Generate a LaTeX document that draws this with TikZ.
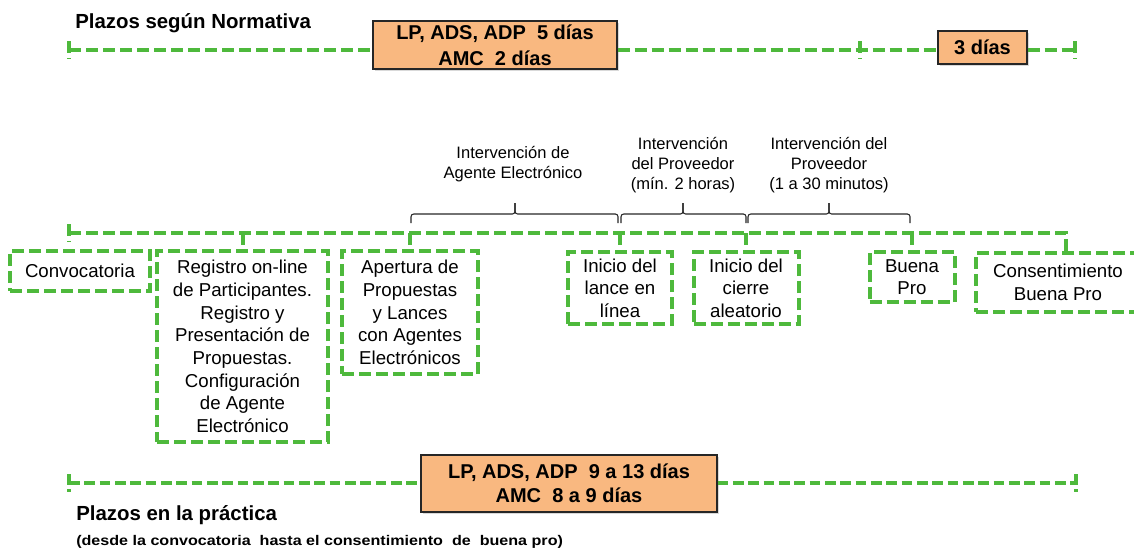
\documentclass[tikz,border=0pt]{standalone}
\usepackage{fontspec}
\usepackage{graphicx}
\setmainfont{Liberation Sans}
\usetikzlibrary{shadows}
\definecolor{dgreen}{RGB}{78,185,60}
\definecolor{ofill}{RGB}{249,184,128}
\newcommand\mybrace[3]{%
  \draw[brc] (#1,223) -- (#1,214) -- (#2,214) -- (#2,203);
  \draw[brc] (#3,223) -- (#3,214) -- (#2,214) -- (#2,203);}
\begin{document}
\begin{tikzpicture}[x=0.75pt,y=-0.75pt,
  gline/.style={draw=dgreen, line width=3pt, dash pattern=on 9pt off 3.75pt},
  tline/.style={draw=dgreen, line width=2.6pt, dash pattern=on 8pt off 3.5pt},
  gbox/.style={gline, fill=white, align=center, inner sep=0pt,
    font=\fontsize{14pt}{17pt}\selectfont},
  obox/.style={draw=black!85, line width=0.9pt, fill=ofill, align=center, inner sep=0pt,
    drop shadow={opacity=0.3, shadow xshift=1.2pt, shadow yshift=-1.2pt}},
  lab/.style={align=center, font=\fontsize{12.4pt}{15pt}\selectfont},
  brc/.style={draw=black!85, line width=0.8pt, rounded corners=2pt},
  ttl/.style={anchor=base west, inner sep=0pt, font=\bfseries\fontsize{15.3pt}{18pt}\selectfont},
]
\useasboundingbox (0,0) rectangle (1134,547);

% ---------- top: Plazos según Normativa ----------
\node[ttl] (t1) at (75,28) {Plazos según Normativa};
\node[obox, font=\bfseries\fontsize{15pt}{19.3pt}\selectfont,
  minimum width=244*0.75pt, minimum height=48*0.75pt] (n5) at (495,45)
  {LP, ADS, ADP~~5 días\\AMC~~2 días};
\node[obox, font=\bfseries\fontsize{15pt}{18pt}\selectfont,
  minimum width=89*0.75pt, minimum height=33*0.75pt] (n3) at (982.5,47.5) {3 días};
\coordinate (tA) at (69,50);
\coordinate (tB) at (860,50);
\coordinate (tC) at (1075,50);
\draw[gline] (tA) -- (n5.west |- tA);
\draw[gline] (n5.east |- tA) -- (tB) -- (n3.west |- tA);
\draw[gline] (n3.east |- tA) -- (tC);
\draw[gline] ([yshift=6.75pt]tA) -- ([yshift=-6.5pt]tA);
\draw[gline] ([yshift=6.75pt]tB) -- ([yshift=-6.5pt]tB);
\draw[gline] ([yshift=6.75pt]tC) -- ([yshift=-6.5pt]tC);

% ---------- braces and labels ----------
\node[lab] (l1) at (513,164.5) {Intervención de\\Agente Electrónico};
\node[lab] (l2) at (683,165) {Intervención\\del Proveedor\\(mín. 2 horas)};
\node[lab] (l3) at (829,165) {Intervención del\\Proveedor\\(1 a 30 minutos)};
\mybrace{411}{515}{618}
\mybrace{621}{683}{746}
\mybrace{748}{829}{910}

% ---------- process boxes ----------
\node[gbox, minimum width=140*0.75pt, minimum height=40*0.75pt] (conv) at (80,271) {Convocatoria};
\node[gbox, minimum width=171*0.75pt, minimum height=191*0.75pt] (reg) at (242.5,346.5)
  {Registro on-line\\de Participantes.\\Registro y\\Presentación de\\Propuestas.\\Configuración\\de Agente\\Electrónico};
\node[gbox, minimum width=136*0.75pt, minimum height=123*0.75pt] (ape) at (410,312.5)
  {Apertura de\\Propuestas\\y Lances\\con Agentes\\Electrónicos};
\node[gbox, minimum width=104*0.75pt, minimum height=72*0.75pt] (lan) at (620,288)
  {Inicio del\\lance en\\línea};
\node[gbox, minimum width=105*0.75pt, minimum height=72*0.75pt] (cie) at (746,288)
  {Inicio del\\cierre\\aleatorio};
\node[gbox, minimum width=85*0.75pt, minimum height=50*0.75pt] (bp) at (912,277)
  {Buena\\Pro};
\node[gbox, minimum width=164*0.75pt, minimum height=59*0.75pt] (cbp) at (1058,282.5)
  {Consentimiento\\Buena Pro};
\coordinate (cbpT) at ([xshift=6pt]cbp.north);

% ---------- middle timeline ----------
\coordinate (mL) at (69,233);
\draw[gline] (mL) -- (mL -| cbpT) -- (cbpT);
\draw[gline] ([yshift=6.75pt]mL) -- ([yshift=-6.75pt]mL);
\draw[gline] (reg.north |- mL) -- (reg.north);
\draw[gline] (ape.north |- mL) -- (ape.north);
\draw[gline] (lan.north |- mL) -- (lan.north);
\draw[gline] (cie.north |- mL) -- (cie.north);
\draw[gline] (bp.north |- mL) -- (bp.north);

% ---------- bottom: Plazos en la práctica ----------
\node[obox, font=\bfseries\fontsize{15pt}{18pt}\selectfont,
  minimum width=296*0.75pt, minimum height=57*0.75pt] (n9) at (569,483.5)
  {LP, ADS, ADP~~9 a 13 días\\AMC~~8 a 9 días};
\coordinate (bA) at (69,483);
\coordinate (bB) at (1076,483);
\draw[tline] (bA) -- (n9.west |- bA);
\draw[tline] (n9.east |- bA) -- (bB);
\draw[tline] ([yshift=6.75pt]bA) -- ([yshift=-6.75pt]bA);
\draw[tline] ([yshift=6.75pt]bB) -- ([yshift=-6.75pt]bB);
\node[ttl] (p2) at (76,520) {Plazos en la práctica};
\node[anchor=base west, inner sep=0pt, font=\bfseries\fontsize{10.5pt}{12pt}\selectfont] (p3) at (76,545)
  {\scalebox{1.15}[1]{(desde la convocatoria~~hasta el consentimiento~~de~~buena pro)}};
\end{tikzpicture}
\end{document}
